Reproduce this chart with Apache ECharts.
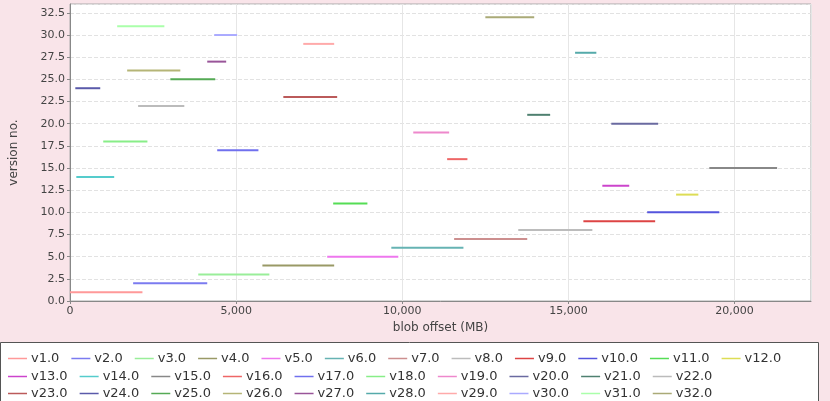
<!DOCTYPE html>
<html>
<head>
<meta charset="utf-8">
<script src="https://cdn.jsdelivr.net/npm/echarts@6/dist/echarts.min.js"></script>
<style>
  html, body { margin: 0; padding: 0; background: #f9e4e9; }
  #main { width: 830px; height: 401px; }
</style>
</head>
<body>
<div id="main"></div>
<script>
// version segments: each version sits on y = version, from start to end offset (MB)
var versions = [1, 2, 3, 4, 5, 6, 7, 8, 9, 10, 11, 12, 13, 14, 15, 16,
                17, 18, 19, 20, 21, 22, 23, 24, 25, 26, 27, 28, 29, 30, 31, 32];
var starts = [0, 1900, 3860, 5790, 7740, 9670, 11560, 13490, 15450, 17370, 7920, 18240, 16020, 190, 19240, 11350,
              4430, 1000, 10330, 16290, 13760, 2050, 6420, 160, 3020, 1720, 4130, 15200, 7020, 4340, 1420, 12500];
var ends = [2180, 4130, 6000, 7950, 9880, 11840, 13760, 15720, 17610, 19540, 8950, 18910, 16830, 1330, 21280, 11960,
            5670, 2330, 11410, 17700, 14450, 3440, 8040, 910, 4370, 3320, 4700, 15840, 7950, 5030, 2840, 13970];

var colors = ['#ff9999', '#7b7bf0', '#99ee99', '#999966', '#ee77ee', '#66b3b3', '#cc8f8f', '#bcbcbc',
              '#dd4444', '#5555dd', '#55dd55', '#dddd55', '#cc44cc', '#55cccc', '#888888', '#ee6666',
              '#7070ee', '#88ee88', '#ee88cc', '#6a6aa0', '#4f8070', '#bbbbbb', '#bb5a5a', '#5a5aaa',
              '#55aa55', '#b5b577', '#995599', '#55aaaa', '#ffaaaa', '#aaaaff', '#aaffaa', '#aaaa77'];

function vname(v) { return 'v' + v + '.0'; }
function thousands(v) {
  var s = String(Math.round(v));
  var out = '';
  while (s.length > 3) {
    out = ',' + s.slice(-3) + out;
    s = s.slice(0, -3);
  }
  return s + out;
}

var series = versions.map(function (v, i) {
  return {
    name: vname(v),
    type: 'line',
    symbol: 'none',
    silent: true,
    color: colors[i],
    lineStyle: { width: 2, color: colors[i] },
    data: [[starts[i], v], [ends[i], v]]
  };
});

var rows = [versions.slice(0, 12), versions.slice(12, 22), versions.slice(22)];
var rowTops = [347, 365, 382];
var legends = rows.map(function (r, k) {
  return {
    data: r.map(vname),
    left: 3,
    top: rowTops[k],
    orient: 'horizontal',
    icon: 'rect',
    itemWidth: 19,
    itemHeight: 1.5,
    itemGap: 12,
    selectedMode: false,
    textStyle: { fontFamily: 'DejaVu Sans', fontSize: 13, color: '#333', padding: [0, 0, 0, -1] }
  };
});

var myChart = echarts.init(document.getElementById('main'));
myChart.setOption({
  animation: false,
  backgroundColor: '#f9e4e9',
  graphic: [{
    type: 'rect',
    left: 0, top: 342,
    shape: { width: 818, height: 70 },
    style: { fill: '#ffffff', stroke: '#555555', lineWidth: 1 },
    z: -1
  }],
  grid: {
    left: 70, right: 19, top: 4, bottom: 100,
    show: true, backgroundColor: '#ffffff', borderColor: '#aaaaaa', borderWidth: 1
  },
  legend: legends,
  xAxis: {
    type: 'value',
    min: 0, max: 22300, interval: 5000,
    name: 'blob offset (MB)',
    nameLocation: 'middle',
    nameGap: 21,
    nameTextStyle: { fontFamily: 'DejaVu Sans', fontSize: 12, color: '#444' },
    axisLine: { show: true, lineStyle: { color: '#888' } },
    axisTick: { show: true, length: 3, lineStyle: { color: '#888' } },
    axisLabel: {
      fontFamily: 'DejaVu Sans', fontSize: 11, color: '#444', margin: 5,
      showMaxLabel: false,
      formatter: function (v) { return thousands(v); }
    },
    splitLine: { show: true, lineStyle: { color: '#e6e6e6', width: 1 } }
  },
  yAxis: {
    type: 'value',
    min: 0, max: 33.5, interval: 2.5,
    name: 'version no.',
    nameLocation: 'middle',
    nameGap: 50,
    nameTextStyle: { fontFamily: 'DejaVu Sans', fontSize: 12, color: '#444' },
    axisLine: { show: true, lineStyle: { color: '#888' } },
    axisTick: { show: true, length: 3, lineStyle: { color: '#888' } },
    axisLabel: {
      fontFamily: 'DejaVu Sans', fontSize: 11, color: '#444', margin: 5,
      showMaxLabel: false,
      formatter: function (v) { return v.toFixed(1); }
    },
    splitLine: { show: true, lineStyle: { color: '#e2e2e2', type: 'dashed', width: 1 } }
  },
  series: series
});
</script>
</body>
</html>
